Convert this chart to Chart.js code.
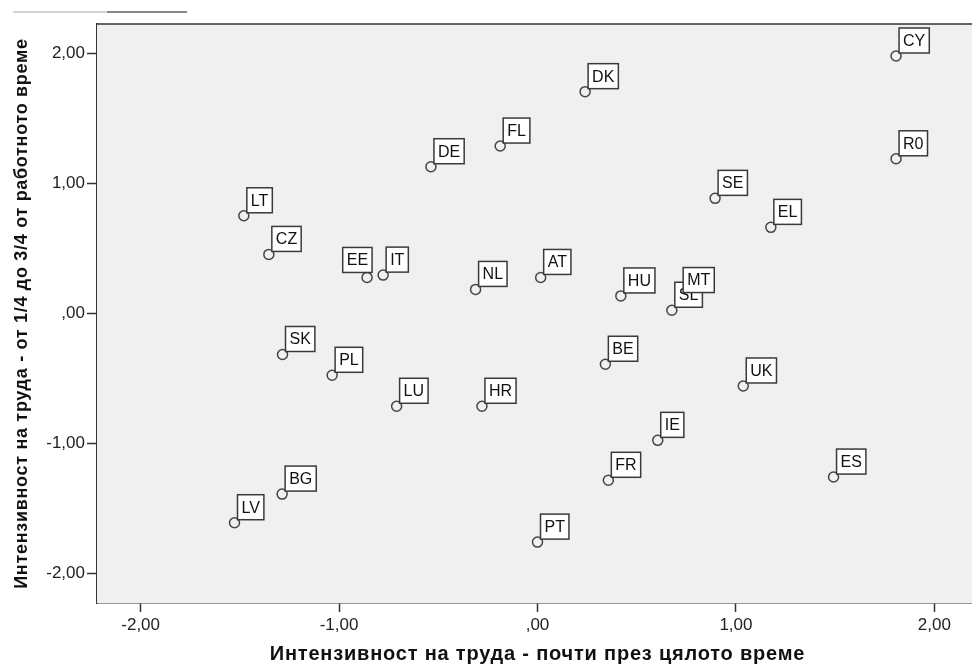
<!DOCTYPE html>
<html>
<head>
<meta charset="utf-8">
<script src="https://cdn.jsdelivr.net/npm/chart.js@4.4.0/dist/chart.umd.min.js"></script>
<style>
  html, body { margin: 0; padding: 0; background: #fff; overflow: hidden; }
  #wrap { width: 972px; height: 666px; overflow: hidden; }
</style>
</head>
<body>
<div id="wrap"><canvas id="myChart" width="985" height="666"></canvas></div>
<script>
// country codes (order = drawing order of the labels)
const countries = ['LT','CZ','DK','FL','DE','CY','R0','SE','EL','EE','IT','SK','PL','NL',
                   'AT','HU','SL','MT','BE','LU','HR','IE','UK','BG','LV','FR','PT','ES'];
// почти през цялото време
const xValues = [-1.48, -1.354, 0.24, -0.188, -0.537, 1.807, 1.807, 0.895, 1.176, -0.859, -0.778, -1.285, -1.035, -0.312,
                 0.016, 0.42, 0.677, 0.719, 0.342, -0.71, -0.28, 0.606, 1.037, -1.287, -1.527, 0.357, 0.0, 1.492];
// от 1/4 до 3/4 от работното време
const yValues = [0.751, 0.454, 1.705, 1.287, 1.128, 1.979, 1.189, 0.885, 0.662, 0.277, 0.295, -0.315, -0.475, 0.185,
                 0.277, 0.135, 0.025, 0.138, -0.39, -0.713, -0.713, -0.975, -0.557, -1.388, -1.608, -1.282, -1.757, -1.257];
const xTicks = [-2, -1, 0, 1, 2];
const yTicks = [-2, -1, 0, 1, 2];
const leftLabels = ['EE'];   // labels put on the left of the point

const FONT = '"Liberation Sans", Arial, sans-serif';

function fmt(v){
    // spss style: 2,00  ,00  -1,00
    if (v === 0) return ',00';
    return v.toFixed(2).replace('.', ',');
}

let points = [];
for (let i = 0; i < countries.length; i += 1){
    points.push({x: xValues[i], y: yValues[i]});
}

// grey plot background + top border + the little line at top left
const frame = {
    id: 'frame',
    beforeDatasetsDraw(chart){
        const ctx = chart.ctx;
        const a = chart.chartArea;
        ctx.save();
        ctx.fillStyle = '#f0f0f0';
        ctx.fillRect(a.left, a.top, a.right - a.left, a.bottom - a.top);
        ctx.strokeStyle = '#333';
        ctx.lineWidth = 1.5;
        ctx.beginPath();
        ctx.moveTo(a.left, a.top);
        ctx.lineTo(a.right + 20, a.top);
        ctx.stroke();

        ctx.strokeStyle = '#aaa';
        ctx.lineWidth = 1;
        ctx.beginPath(); ctx.moveTo(13, 12); ctx.lineTo(107, 12); ctx.stroke();
        ctx.strokeStyle = '#888';
        ctx.lineWidth = 2;
        ctx.beginPath(); ctx.moveTo(107, 12); ctx.lineTo(187, 12); ctx.stroke();
        ctx.restore();
    }
};

// axis titles are a bit letter-spaced in the original
const spacedTitles = {
    id: 'spacedTitles',
    beforeDraw(chart){
        Object.values(chart.scales).forEach(function(scale){
            if (scale._spaced) return;
            const orig = scale.drawTitle;
            scale.drawTitle = function(){
                const c = this.ctx;
                c.save();
                c.letterSpacing = this.isHorizontal() ? '0.8px' : '0.7px';
                orig.call(this);
                c.restore();
            };
            scale._spaced = true;
        });
    }
};

// boxed country labels next to each point
const boxLabels = {
    id: 'boxLabels',
    afterDatasetsDraw(chart){
        const ctx = chart.ctx;
        const meta = chart.getDatasetMeta(0);
        ctx.save();
        ctx.font = '16px ' + FONT;
        ctx.textBaseline = 'middle';
        meta.data.forEach(function(pt, i){
            const txt = countries[i];
            const w = ctx.measureText(txt).width + 8;
            const h = 25;
            let left = pt.x + 3;
            let bottom = pt.y - 3;
            if (leftLabels.includes(txt)){
                left = pt.x + 5 - w;
                bottom = pt.y - 5;
            }
            ctx.fillStyle = '#fff';
            ctx.fillRect(left, bottom - h, w, h);
            ctx.strokeStyle = '#3a3a3a';
            ctx.lineWidth = 1.5;
            ctx.strokeRect(left, bottom - h, w, h);
            ctx.fillStyle = '#111';
            ctx.fillText(txt, left + 4, bottom - h / 2 + 1);
        });
        ctx.restore();
    }
};

Chart.defaults.color = '#222';
Chart.defaults.font.family = FONT;

const ctx = document.getElementById('myChart').getContext('2d');
const myChart = new Chart(ctx, {
    type: 'scatter',
    data: {
        datasets: [{
            data: points,
            pointRadius: 5,
            pointHoverRadius: 5,
            pointBorderWidth: 1.5,
            pointBorderColor: '#444',
            pointBackgroundColor: 'rgba(0,0,0,0)'
        }]
    },
    options: {
        responsive: false,
        animation: false,
        devicePixelRatio: 1,
        layout: { padding: { top: 24, right: 7, left: 0, bottom: 0 } },
        plugins: { legend: { display: false }, tooltip: { enabled: false } },
        scales: {
            x: {
                type: 'linear',
                min: -2.22,
                max: 2.22,
                afterBuildTicks: function(scale){ scale.ticks = xTicks.map(v => ({value: v})); },
                afterFit: function(scale){ scale.height = 63; },
                ticks: { callback: fmt, font: { size: 17 }, padding: 3, color: '#222', maxRotation: 0 },
                grid: { drawOnChartArea: false, drawTicks: true, tickLength: 9, tickColor: '#333', tickWidth: 1.5 },
                border: { display: true, color: '#333', width: 1.5 },
                title: {
                    display: true,
                    text: 'Интензивност на труда - почти през цялото време',
                    font: { size: 20, weight: 'bold' },
                    color: '#111',
                    padding: { top: 0, bottom: 0 }
                }
            },
            y: {
                type: 'linear',
                min: -2.225,
                max: 2.225,
                afterBuildTicks: function(scale){ scale.ticks = yTicks.map(v => ({value: v})); },
                afterFit: function(scale){ scale.width = 97; },
                ticks: { callback: fmt, font: { size: 17 }, padding: 2, color: '#222' },
                grid: { drawOnChartArea: false, drawTicks: true, tickLength: 10, tickColor: '#333', tickWidth: 1.5 },
                border: { display: true, color: '#333', width: 1.5 },
                title: {
                    display: true,
                    text: 'Интензивност на труда - от 1/4 до 3/4 от работното време',
                    font: { size: 18, weight: 'bold' },
                    color: '#111',
                    padding: { top: 11, bottom: 0 }
                }
            }
        }
    },
    plugins: [frame, spacedTitles, boxLabels]
});
</script>
</body>
</html>
